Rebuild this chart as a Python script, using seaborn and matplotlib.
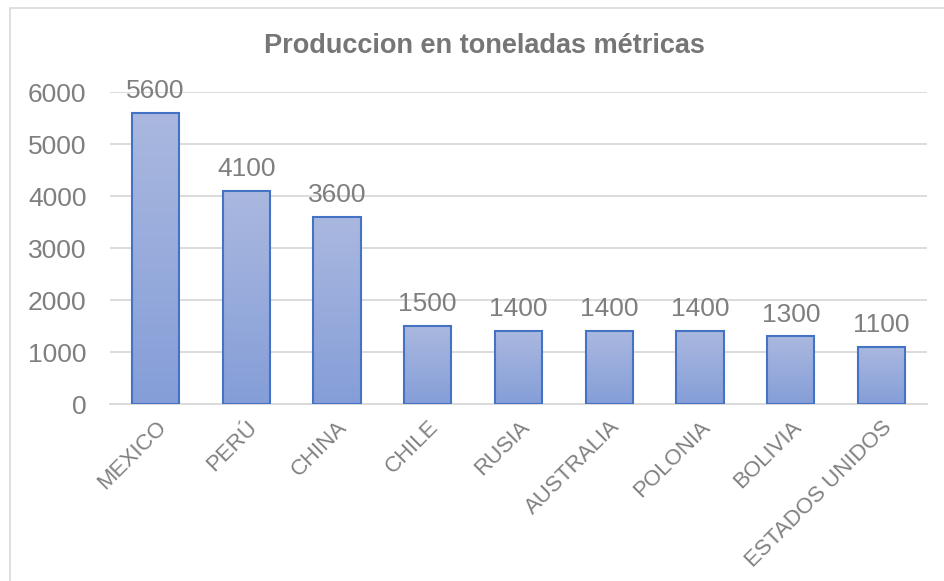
import numpy as np
import pandas as pd
import matplotlib
matplotlib.use("Agg")
import matplotlib.pyplot as plt
import matplotlib.patches as mpatches
import seaborn as sns

paises = ["MEXICO", "PERÚ", "CHINA", "CHILE", "RUSIA", "AUSTRALIA", "POLONIA", "BOLIVIA", "ESTADOS UNIDOS"]
produccion = [5600, 4100, 3600, 1500, 1400, 1400, 1400, 1300, 1100]
yticks = [0, 1000, 2000, 3000, 4000, 5000, 6000]
titulo = "Produccion en toneladas métricas"

sns.set_style("white")
plt.rcParams["font.family"] = ["Liberation Sans", "DejaVu Sans"]

df = pd.DataFrame({"pais": paises, "produccion": produccion})

fig = plt.figure(figsize=(9.45, 5.81), dpi=100)
ax = fig.add_axes([110/945, 1-404/581, (927-110)/945, (404-92)/581])

sns.barplot(data=df, x="pais", y="produccion", ax=ax, width=0.52,
            color="#9aaede", edgecolor="#4472c4", linewidth=1.5, saturation=1)

ax.set_ylim(0, 6000)
xlim = ax.get_xlim()

top_c = np.array(matplotlib.colors.to_rgb("#aab8df"))
bot_c = np.array(matplotlib.colors.to_rgb("#859ed8"))
grad = np.linspace(0, 1, 256)[:, None]
img = top_c[None, None, :] * (1 - grad[:, :, None]) + bot_c[None, None, :] * grad[:, :, None]

for p in ax.patches:
    x0, y0 = p.get_x(), p.get_y()
    w, h = p.get_width(), p.get_height()
    im = ax.imshow(img, extent=[x0, x0 + w, y0, y0 + h], origin="upper",
                   aspect="auto", zorder=p.get_zorder() - 0.05, interpolation="bilinear")
    im.set_clip_path(p)
    p.set_facecolor("none")
    p.set_zorder(3)

ax.set_xlim(xlim)
ax.set_ylim(0, 6000)
ax.set_aspect("auto")

ax.bar_label(ax.containers[0], labels=[str(v) for v in produccion], padding=7,
             fontsize=19, color="#7f7f7f", clip_on=False)

ax.set_yticks(yticks)
ax.set_yticklabels([str(t) for t in yticks], fontsize=19, color="#7f7f7f")
ax.tick_params(axis="y", length=0, pad=17)
ax.tick_params(axis="x", length=0, pad=9)
ax.set_xticks(range(len(paises)))
ax.set_xticklabels(paises, rotation=45, ha="right", rotation_mode="anchor",
                   fontsize=16, color="#808080")
ax.yaxis.grid(True, color="#d9d9d9", linewidth=1.3)
ax.set_axisbelow(True)
for s in ["top", "right", "left"]:
    ax.spines[s].set_visible(False)
ax.spines["bottom"].set_color("#d9d9d9")
ax.spines["bottom"].set_linewidth(1.3)
ax.set_xlabel("")
ax.set_ylabel("")

fig.text(484/945, 1-46/581, titulo, ha="center", va="center",
         fontsize=19.5, fontweight="bold", color="#767676")

border = mpatches.Rectangle((10/945, -0.1), 1.2, 1-8/581+0.1, transform=fig.transFigure,
                            fill=False, edgecolor="#d9d9d9", linewidth=1.2)
fig.patches.append(border)

fig.savefig("out.png", dpi=100)
